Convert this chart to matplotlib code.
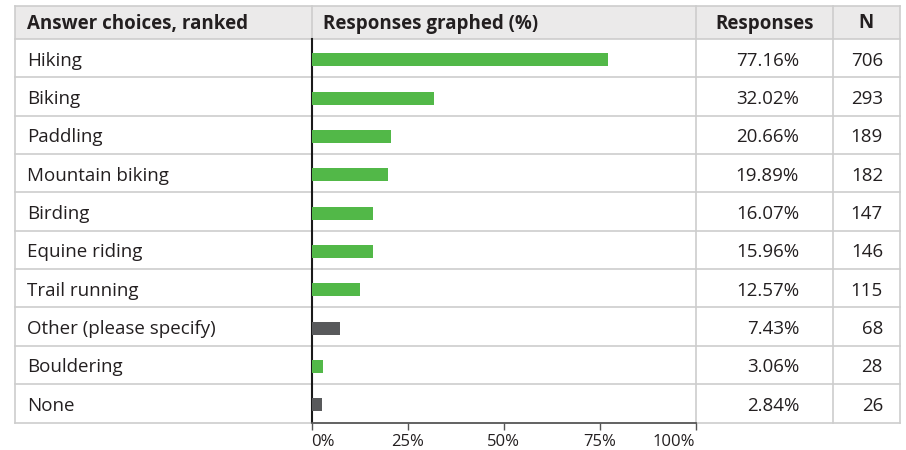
import matplotlib
matplotlib.use("Agg")
import matplotlib.pyplot as plt
import numpy as np

# Survey results
choices = ["Hiking", "Biking", "Paddling", "Mountain biking", "Birding",
           "Equine riding", "Trail running", "Other (please specify)",
           "Bouldering", "None"]
percent = [77.16, 32.02, 20.66, 19.89, 16.07, 15.96, 12.57, 7.43, 3.06, 2.84]
counts = [706, 293, 189, 182, 147, 146, 115, 68, 28, 26]
highlight = [True, True, True, True, True, True, True, False, True, False]
tick_values = [0, 25, 50, 75, 100]
headers = ["Answer choices, ranked", "Responses graphed (%)", "Responses", "N"]

GREEN = "#52b848"
GRAY = "#58595b"
LINE = "#cdcdcd"
TEXT = "#231f20"
HEAD_BG = "#ebeaea"

plt.rcParams["font.family"] = ["Open Sans", "DejaVu Sans"]

W, H = 906, 450
fig = plt.figure(figsize=(W / 100, H / 100), dpi=100)
fig.patch.set_facecolor("white")

# table geometry in pixels
x_left, x_bar0, x_bar1, x_n, x_right = 15, 311.5, 695.5, 833, 899.5
y_top, y_head, y_bot = 6, 39, 422.5
n = len(choices)
row_h = (y_bot - y_head) / n

# overlay for the table grid and text (pixel coordinates)
tab = fig.add_axes([0, 0, 1, 1])
tab.set_xlim(0, W)
tab.set_ylim(H, 0)
tab.axis("off")

tab.add_patch(plt.Rectangle((x_left, y_top), x_right - x_left, y_head - y_top,
                            facecolor=HEAD_BG, edgecolor="none", zorder=0))
# horizontal rules
for i in range(n + 2):
    y = y_top if i == 0 else y_head + (i - 1) * row_h
    if i == n + 1:
        tab.plot([x_left, x_bar0], [y, y], color=LINE, lw=1.2, zorder=1)
        tab.plot([x_bar1, x_right], [y, y], color=LINE, lw=1.2, zorder=1)
    else:
        tab.plot([x_left, x_right], [y, y], color=LINE, lw=1.2, zorder=1)
# vertical rules
for x in [x_left, x_bar1, x_n, x_right]:
    tab.plot([x, x], [y_top, y_bot], color=LINE, lw=1.2, zorder=1)
tab.plot([x_bar0, x_bar0], [y_top, y_head], color=LINE, lw=1.2, zorder=1)

fs = 13.5
head_base = y_top + 22.5
tab.text(27, head_base, headers[0], fontsize=fs, fontweight="bold", color=TEXT,
         ha="left", va="baseline")
tab.text(323, head_base, headers[1], fontsize=fs, fontweight="bold", color=TEXT,
         ha="left", va="baseline")
tab.text((x_bar1 + x_n) / 2, head_base, headers[2], fontsize=fs, fontweight="bold",
         color=TEXT, ha="center", va="baseline")
tab.text((x_n + x_right) / 2, head_base, headers[3], fontsize=fs, fontweight="bold",
         color=TEXT, ha="center", va="baseline")

for i, (name, p, c) in enumerate(zip(choices, percent, counts)):
    yb = y_head + i * row_h + 26.7
    tab.text(27, yb, name, fontsize=fs, color=TEXT, ha="left", va="baseline")
    tab.text(799, yb, f"{p:.2f}%", fontsize=fs, color=TEXT, ha="right", va="baseline")
    tab.text(883, yb, f"{c}", fontsize=fs, color=TEXT, ha="right", va="baseline")

# bar chart column
ax = fig.add_axes([x_bar0 / W, 1 - y_bot / H, (x_bar1 - x_bar0) / W,
                   (y_bot - y_head) / H])
ax.patch.set_alpha(0)
ypos = np.arange(n)
colors = [GREEN if h else GRAY for h in highlight]
ax.barh(ypos + 0.04, percent, height=0.34, color=colors, zorder=3)
ax.set_xlim(0, 100)
ax.set_ylim(n - 0.5, -0.5)
ax.set_yticks([])
ax.set_xticks(tick_values)
ax.set_xticklabels([f"{v}%" for v in tick_values], fontsize=12, color=TEXT)
labels = ax.get_xticklabels()
labels[0].set_ha("left")
labels[-1].set_ha("right")
ax.tick_params(axis="x", length=5, width=1, color="#555555", pad=3)
for s in ["top", "right"]:
    ax.spines[s].set_visible(False)
ax.spines["left"].set_color("#1a1a1a")
ax.spines["left"].set_linewidth(1.5)
ax.spines["bottom"].set_color("#555555")
ax.spines["bottom"].set_linewidth(1.3)

fig.savefig("out.png", dpi=100, facecolor="white")
